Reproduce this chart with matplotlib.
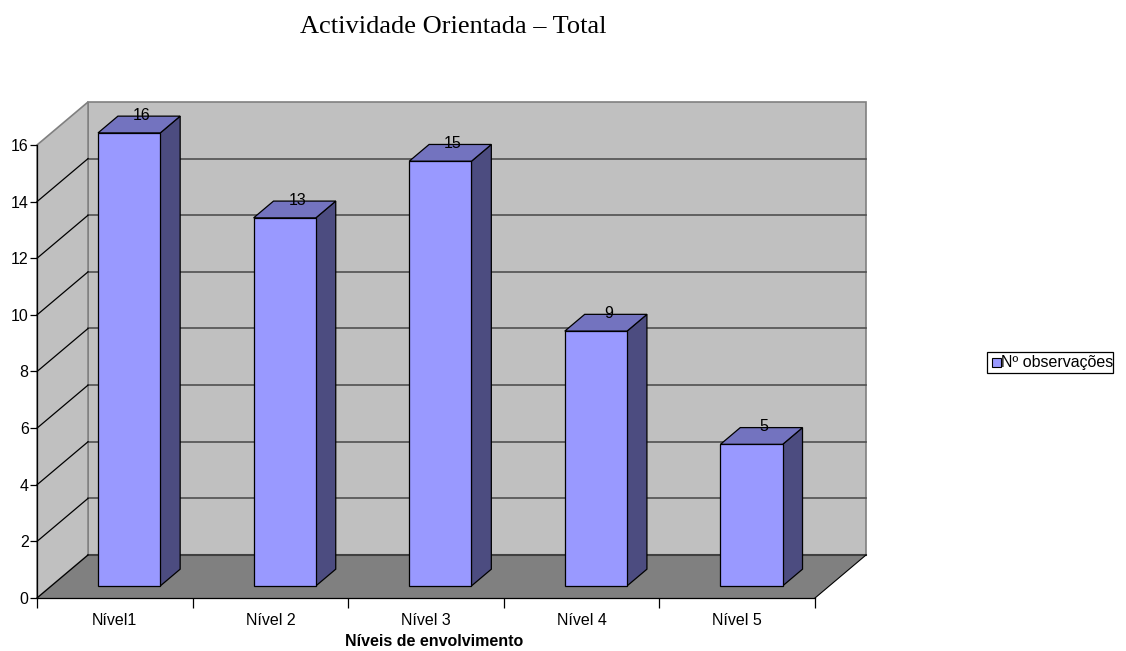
import numpy as np
import matplotlib.pyplot as plt
from matplotlib.patches import Polygon, Rectangle
from matplotlib.lines import Line2D

plt.rcParams['font.family'] = ['Liberation Sans', 'DejaVu Sans']

categories = ["Nível1", "Nível 2", "Nível 3", "Nível 4", "Nível 5"]
observacoes = [16, 13, 15, 9, 5]
yticks = [0, 2, 4, 6, 8, 10, 12, 14, 16]

# fake 3D: depth d in [0, 1] shifts points right/up
DX, DY = 0.328, 1.52
YMAX = 16
N = len(categories)
FS = 11.5


def P(x, y, d):
    return (x + d * DX, y + d * DY)


fig = plt.figure(figsize=(11.26, 6.51), dpi=100)
ax = fig.add_axes([0.0329, 0.0814, 0.6909, 0.6959])
ax.set_xlim(0, N)
ax.set_ylim(0, YMAX)
ax.patch.set_visible(False)

wall = "#c0c0c0"
floor = "#808080"

# back wall, left wall, floor
ax.add_patch(Polygon([P(0, 0, 1), P(N, 0, 1), P(N, YMAX, 1), P(0, YMAX, 1)],
                     closed=True, fc=wall, ec="#808080", lw=1.2, clip_on=False, zorder=0))
ax.add_patch(Polygon([P(0, 0, 0), P(0, 0, 1), P(0, YMAX, 1), P(0, YMAX, 0)],
                     closed=True, fc=wall, ec="#808080", lw=1.2, clip_on=False, zorder=0))
ax.add_patch(Polygon([P(0, 0, 0), P(N, 0, 0), P(N, 0, 1), P(0, 0, 1)],
                     closed=True, fc=floor, ec="none", clip_on=False, zorder=0.5))
ax.add_line(Line2D(*zip(P(0, 0, 1), P(N, 0, 1)), color="#404040", lw=1.5, clip_on=False, zorder=0.6))
ax.add_line(Line2D(*zip(P(N, 0, 0), P(N, 0, 1)), color="black", lw=0.8, clip_on=False, zorder=0.6))

# gridlines on both walls
for v in yticks[1:-1]:
    ax.add_line(Line2D(*zip(P(0, v, 1), P(N, v, 1)), color="#505050", lw=1.2, clip_on=False, zorder=0.4))
    ax.add_line(Line2D(*zip(P(0, v, 0), P(0, v, 1)), color="black", lw=0.9, clip_on=False, zorder=0.4))
ax.add_line(Line2D(*zip(P(0, 0, 0), P(0, 0, 1)), color="black", lw=0.9, clip_on=False, zorder=0.6))

# bars
w = 0.2
d0, d1 = 0.28, 0.67
front_c, side_c, top_c = "#9999ff", "#4c4c80", "#7373bf"
for i, v in enumerate(observacoes):
    c = i + 0.5
    xl, xr = c - w, c + w
    ax.add_patch(Polygon([P(xr, 0, d0), P(xr, 0, d1), P(xr, v, d1), P(xr, v, d0)],
                         closed=True, fc=side_c, ec="black", lw=0.9, clip_on=False, zorder=2))
    ax.add_patch(Polygon([P(xl, v, d0), P(xr, v, d0), P(xr, v, d1), P(xl, v, d1)],
                         closed=True, fc=top_c, ec="black", lw=0.9, clip_on=False, zorder=2))
    ax.add_patch(Polygon([P(xl, 0, d0), P(xr, 0, d0), P(xr, v, d0), P(xl, v, d0)],
                         closed=True, fc=front_c, ec="black", lw=0.9, clip_on=False, zorder=2.1))
    lx, ly = P(c, v, 0.53)
    ax.text(lx, ly + 0.25, str(v), ha="center", va="center", fontsize=FS, zorder=3)

# axes, ticks
for s in ["top", "right"]:
    ax.spines[s].set_visible(False)
for s in ["left", "bottom"]:
    ax.spines[s].set_color("black")
    ax.spines[s].set_linewidth(0.9)
ax.set_yticks(yticks)
ax.tick_params(axis="y", direction="out", length=5, width=0.9, labelsize=FS, pad=1)
ax.set_xticks(np.arange(N + 1))
ax.set_xticklabels([])
ax.tick_params(axis="x", which="major", direction="out", length=7, width=0.9)
ax.set_xticks(np.arange(N) + 0.5, minor=True)
ax.set_xticklabels(categories, minor=True, fontsize=FS)
ax.tick_params(axis="x", which="minor", length=0, pad=11)
fig.text(434 / 1126, 1 - 646 / 651, "Níveis de envolvimento", ha="center", va="baseline",
         fontsize=FS, fontweight="bold")

fig.text(453 / 1126, 1 - 33 / 651, "Actividade Orientada – Total", ha="center", va="baseline",
         fontsize=19, family="Liberation Serif")

# legend
fig.patches.append(Rectangle((987 / 1126, 1 - 373 / 651), 126 / 1126, 21 / 651,
                             transform=fig.transFigure, fc="white", ec="black", lw=0.9))
fig.patches.append(Rectangle((992 / 1126, 1 - 367 / 651), 9 / 1126, 9 / 651,
                             transform=fig.transFigure, fc=front_c, ec="black", lw=0.8))
fig.text(1001 / 1126, 1 - 362.5 / 651, "Nº observações", ha="left", va="center", fontsize=FS)

fig.savefig("out.png", dpi=100)
